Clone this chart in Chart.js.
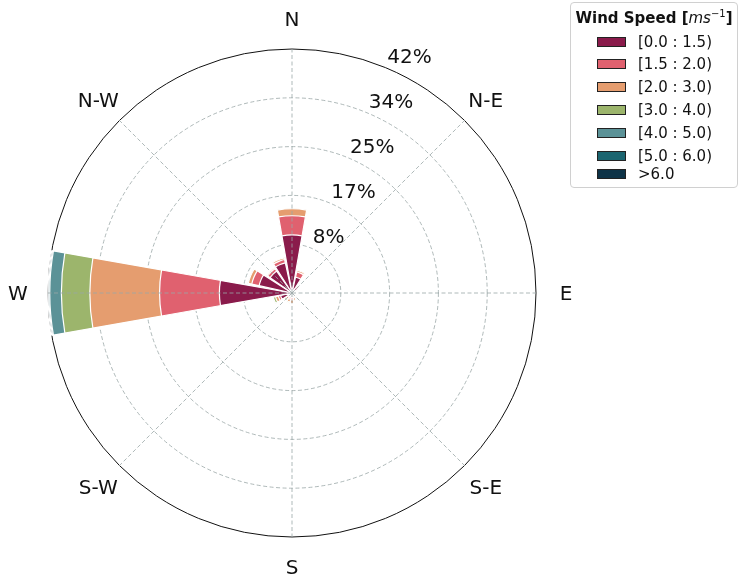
<!DOCTYPE html>
<html>
<head>
<meta charset="utf-8">
<script src="https://cdn.jsdelivr.net/npm/chart.js@4.4.1/dist/chart.umd.min.js"></script>
<style>
  html, body { margin: 0; padding: 0; background: #fff; }
  #wrap { position: relative; width: 739px; height: 578px; overflow: hidden; font-family: 'DejaVu Sans', sans-serif; }
  #rose { position: absolute; left: 0; top: 0; }
  #legend { position: absolute; left: 570px; top: 2px; width: 168px; height: 186px; box-sizing: border-box;
            border: 1px solid #d0d0d0; border-radius: 4px; background: #fff; }
  #legend .title { position: absolute; left: 0; right: 0; top: 6px; text-align: center; font-size: 15px;
                   font-weight: bold; color: #111; white-space: nowrap; }
  #legend .title i { font-weight: normal; }
  #legend .title sup { font-weight: normal; font-size: 10px; line-height: 0; vertical-align: 6px; }
  #legend .row { position: absolute; left: 26px; height: 20px; display: flex; align-items: center;
                 font-size: 15px; color: #111; white-space: nowrap; }
  #legend .sw { width: 27px; height: 8px; border: 1px solid #222; margin-right: 12px; }
</style>
</head>
<body>
<div id="wrap">
  <canvas id="rose" width="739" height="578"></canvas>
  <div id="legend"></div>
</div>
<script>
// Sixteen compass sectors, clockwise from north
const directions = ['N', 'NNE', 'NE', 'ENE', 'E', 'ESE', 'SE', 'SSE',
                    'S', 'SSW', 'SW', 'WSW', 'W', 'WNW', 'NW', 'NNW'];

// Frequency (%) of each speed class per sector
const speed0to1_5 = [10.0, 2.8, 1.2, 0.5, 0.3, 0.3, 0.4, 0.6, 0.8, 0.7, 0.6, 2.0, 12.5, 5.8, 4.6, 5.3];
const speed1_5to2 = [ 3.3, 0.9, 0.3, 0.1, 0.1, 0.1, 0.2, 0.3, 0.4, 0.4, 0.3, 0.4, 10.3, 1.3, 0.5, 0.6];
const speed2to3   = [ 1.2, 0.3, 0.1, 0.1, 0.1, 0.1, 0.2, 0.4, 0.6, 0.5, 0.4, 0.5, 12.0, 0.6, 0.2, 0.3];
const speed3to4   = [ 0.0, 0.0, 0.0, 0.0, 0.0, 0.0, 0.1, 0.1, 0.1, 0.2, 0.3, 0.4,  4.9, 0.1, 0.0, 0.0];
const speed4to5   = [ 0.0, 0.0, 0.0, 0.0, 0.0, 0.0, 0.0, 0.0, 0.0, 0.0, 0.0, 0.05, 2.0, 0.0, 0.0, 0.0];
const speed5to6   = [ 0.0, 0.0, 0.0, 0.0, 0.0, 0.0, 0.0, 0.0, 0.0, 0.0, 0.0, 0.0,  0.15, 0.0, 0.0, 0.0];
const speedOver6  = [ 0.0, 0.0, 0.0, 0.0, 0.0, 0.0, 0.0, 0.0, 0.0, 0.0, 0.0, 0.0,  0.15, 0.0, 0.0, 0.0];

const speedBins = ['[0.0 : 1.5)', '[1.5 : 2.0)', '[2.0 : 3.0)', '[3.0 : 4.0)', '[4.0 : 5.0)', '[5.0 : 6.0)', '>6.0'];
const binColors = ['#8a1b4b', '#e0616f', '#e59d6f', '#9cb56c', '#5b9297', '#1b6570', '#0e3347'];

// Radial rings and their labels
const ringValues = [8.4, 16.8, 25.2, 33.6, 42.0];
const ringLabels = ['8%', '17%', '25%', '34%', '42%'];
const compassLabels = ['N', 'N-E', 'E', 'S-E', 'S', 'S-W', 'W', 'N-W'];

const barDeg = 20, gapDeg = 2.5;
const gridColor = '#9ba7a7';
const rMax = ringValues[ringValues.length - 1];

// Each sector is followed by an empty gap slot so bars stay separated
function withGaps(values) {
  const out = [];
  values.forEach(v => { out.push(v); out.push(0); });
  return out;
}

const series = [speed0to1_5, speed1_5to2, speed2to3, speed3to4, speed4to5, speed5to6, speedOver6];
let running = directions.map(() => 0);
const datasets = series.map((vals, k) => {
  running = running.map((sum, i) => sum + vals[i]);
  return {
    label: speedBins[k],
    data: withGaps(running),
    backgroundColor: binColors[k],
    borderColor: '#ffffff',
    borderWidth: c => (c.dataIndex % 2 ? 0 : 1.2),
    angle: c => (c.dataIndex % 2 ? gapDeg : barDeg)
  };
});

const roseDecor = {
  id: 'roseDecor',
  afterDatasetsDraw(chart) {
    const s = chart.scales.r, ctx = chart.ctx;
    const cx = s.xCenter, cy = s.yCenter, R = s.drawingArea;
    ctx.save();
    ctx.strokeStyle = gridColor;
    ctx.lineWidth = 0.8;
    ctx.setLineDash([4, 2.5]);
    compassLabels.forEach((_, i) => {
      const a = i * Math.PI / 4;
      ctx.beginPath();
      ctx.moveTo(cx, cy);
      ctx.lineTo(cx + R * Math.sin(a), cy - R * Math.cos(a));
      ctx.stroke();
    });
    ctx.restore();
  },
  afterDraw(chart) {
    const s = chart.scales.r, ctx = chart.ctx;
    const cx = s.xCenter, cy = s.yCenter, R = s.drawingArea;
    const size = 20;
    ctx.save();
    ctx.font = size + 'px "DejaVu Sans"';
    ctx.fillStyle = '#111';
    ctx.textBaseline = 'alphabetic';
    // compass labels
    ctx.textAlign = 'center';
    const lr = R + 30;
    compassLabels.forEach((txt, i) => {
      const a = i * Math.PI / 4;
      ctx.fillText(txt, cx + lr * Math.sin(a), cy - lr * Math.cos(a) + 0.729 * size / 2);
    });
    // ring labels
    ctx.textAlign = 'left';
    const ra = 22.5 * Math.PI / 180;
    ringValues.forEach((v, i) => {
      const d = s.getDistanceFromCenterForValue(v);
      ctx.fillText(ringLabels[i], cx + d * Math.sin(ra) + 2, cy - d * Math.cos(ra) - 4.5);
    });
    ctx.restore();
  }
};

const chart = new Chart(document.getElementById('rose'), {
  type: 'polarArea',
  data: {
    labels: withGaps(directions).map((d, i) => (i % 2 ? '' : d)),
    datasets: datasets
  },
  options: {
    responsive: false,
    animation: false,
    events: [],
    layout: { padding: { left: 48, top: 49, right: 203, bottom: 41 } },
    plugins: { legend: { display: false }, tooltip: { enabled: false } },
    scales: {
      r: {
        min: 0,
        max: rMax,
        z: 1,
        startAngle: -barDeg / 2,
        ticks: { display: false, stepSize: ringValues[0] },
        pointLabels: { display: false },
        angleLines: { display: false },
        grid: {
          circular: true,
          color: c => (c.tick && c.tick.value > rMax - 0.01 ? '#111111' : gridColor),
          lineWidth: c => (c.tick && c.tick.value > rMax - 0.01 ? 1 : 0.8)
        },
        border: {
          dash: c => (c.tick && c.tick.value > rMax - 0.01 ? [] : [4, 2.5])
        }
      }
    }
  },
  plugins: [roseDecor]
});

// Legend built from the chart's datasets
const legend = document.getElementById('legend');
const title = document.createElement('div');
title.className = 'title';
title.innerHTML = 'Wind Speed [<i>ms</i><sup>\u22121</sup>]';
legend.appendChild(title);
const rowCenters = [41.5, 64.3, 87, 110, 133, 155.5, 174];
chart.data.datasets.forEach((ds, i) => {
  const row = document.createElement('div');
  row.className = 'row';
  row.style.top = (rowCenters[i] - 10 - 3) + 'px';
  const sw = document.createElement('span');
  sw.className = 'sw';
  sw.style.background = ds.backgroundColor;
  const tx = document.createElement('span');
  tx.textContent = ds.label;
  row.appendChild(sw);
  row.appendChild(tx);
  legend.appendChild(row);
});
</script>
</body>
</html>
